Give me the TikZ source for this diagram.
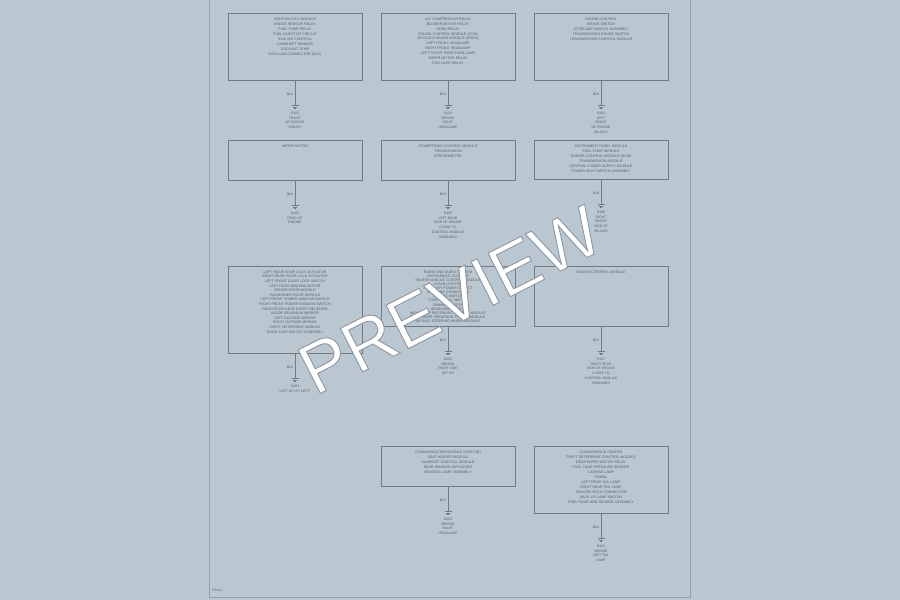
\documentclass[tikz,border=0pt]{standalone}
\usepackage{fontspec}
\setmainfont{Liberation Sans}
\usetikzlibrary{positioning}
\definecolor{pagebg}{RGB}{186,198,208}
\definecolor{frameclr}{RGB}{150,160,170}
\definecolor{wireclr}{RGB}{112,122,132}
\definecolor{txtclr}{RGB}{85,95,105}
\newcommand{\outlinetext}[1]{\special{pdf:literal direct 2 Tr 0.9 w 0.55 0.59 0.63 RG}#1}
\tikzset{
  compbox/.style={draw=wireclr,line width=0.8pt,minimum width=134pt,anchor=north,inner sep=0pt},
  comptext/.style={text=txtclr,align=center,inner sep=0pt},
  wire/.style={draw=wireclr,line width=1pt},
  wirelbl/.style={font=\fontsize{3.4}{4}\selectfont,text=txtclr,pos=0.56,left=1pt,inner sep=0pt},
  gndsym/.style={draw=wireclr,line width=0.7pt},
  gndtext/.style={font=\fontsize{3.4}{4.8}\selectfont,text=txtclr,align=center,inner sep=0pt},
  watermark/.style={font=\fontsize{71}{71}\selectfont,text=white,rotate=27,inner sep=0pt}
}
\begin{document}
\begin{tikzpicture}[x=1pt,y=-1pt]
  \useasboundingbox (0,0) rectangle (900,600);
  \fill[pagebg] (0,0) rectangle (900,600);
  \draw[frameclr,line width=0.8pt] (209,0) -- (209,597) -- (690,597) -- (690,0);
  \node[font=\fontsize{3.4}{4}\selectfont,text=txtclr,anchor=west,inner sep=0pt] (pageno) at (212,590) {GD-01};
  \foreach \n/\bx/\by/\bh/\ls/\txt/\gt in {%
    1/295/13/67/5/{IGNITION COIL MODULE\\KNOCK SENSOR RELAY\\FUEL PUMP RELAY\\FUEL INJECTOR CIRCUIT\\IDLE AIR CONTROL\\CAMSHAFT SENSOR\\COOLANT TEMP\\DATA LINK CONNECTOR (DLC)}/{G101\\FRONT\\OF ENGINE\\(RIGHT)},
    2/448/13/67/4.9/{A/C COMPRESSOR RELAY\\BLOWER MOTOR RELAY\\HORN RELAY\\CRUISE CONTROL MODULE (CCM)\\ANTILOCK BRAKE MODULE (EBCM)\\LEFT FRONT HEADLAMP\\RIGHT FRONT HEADLAMP\\LEFT FRONT PARK/TURN LAMP\\WIPER MOTOR RELAY\\FOG LAMP RELAY}/{G102\\BEHIND\\RIGHT\\HEADLAMP},
    3/601/13/67/5/{CRUISE CONTROL\\BRAKE SWITCH\\STOPLAMP SWITCH ASSEMBLY\\TRANSMISSION RANGE SWITCH\\TRANSMISSION CONTROL MODULE}/{G103\\LEFT\\FRONT\\OF ENGINE\\(BLACK)},
    4/295/140/40/5/{WIPER MOTOR}/{G104\\REAR OF\\ENGINE},
    5/448/140/40/5/{POWERTRAIN CONTROL MODULE\\TRANSMISSION\\SPEEDOMETER}/{G105\\LEFT REAR\\SIDE OF ENGINE\\CLOSE TO\\CONTROL MODULE\\(INBOARD)},
    6/601/140/39/5/{INSTRUMENT PANEL MODULE\\FUEL PUMP MODULE\\ENGINE CONTROL MODULE (ECM)\\TRANSMISSION MODULE\\CENTRAL POWER SUPPLY MODULE\\POWER SEAT SWITCH ASSEMBLY}/{G106\\RIGHT\\FRONT\\SIDE OF\\(BLACK)},
    7/295/266/87/4.6/{LEFT REAR DOOR LOCK ACTUATOR\\RIGHT REAR DOOR LOCK ACTUATOR\\LEFT FRONT DOOR LOCK SWITCH\\LEFT REAR WINDOW MOTOR\\DRIVER DOOR MODULE\\PASSENGER DOOR MODULE\\LEFT FRONT POWER WINDOW SWITCH\\RIGHT FRONT POWER WINDOW SWITCH\\REMOTE KEYLESS ENTRY RECEIVER\\INSIDE REARVIEW MIRROR\\LEFT OUTSIDE MIRROR\\RIGHT OUTSIDE MIRROR\\THEFT DETERRENT MODULE\\DOOR AJAR SWITCH ASSEMBLY}/{G201\\LEFT OF I/P (LEFT)},
    8/448/266/60/4.1/{RADIO AND AUDIO SYSTEM\\INSTRUMENT CLUSTER\\HEATER AND A/C CONTROL MODULE\\CIGAR LIGHTER\\AUXILIARY POWER OUTLET\\DATA LINK CONNECTOR\\HAZARD SWITCH\\TURN SIGNAL SWITCH\\DIMMER SWITCH\\HEADLAMP SWITCH\\INFLATABLE RESTRAINT SENSING MODULE\\PASSENGER PRESENCE SYSTEM MODULE\\AIR BAG STEERING WHEEL MODULE}/{G202\\BEHIND\\RIGHT SIDE\\(OF I/P)},
    9/601/266/60/5/{ENGINE CONTROL MODULE}/{G107\\RIGHT REAR\\SIDE OF ENGINE\\CLOSE TO\\CONTROL MODULE\\(INBOARD)},
    10/448/446/40/5/{COMMUNICATION MODULE (ONSTAR)\\SEAT HEATER MODULE\\SUNROOF CONTROL MODULE\\REAR WINDOW DEFOGGER\\READING LAMP ASSEMBLY}/{G203\\BEHIND\\RIGHT\\HEADLAMP},
    11/601/446/67/5/{CONVENIENCE CENTER\\THEFT DETERRENT CONTROL MODULE\\REAR WIPER MOTOR RELAY\\FUEL TANK PRESSURE SENSOR\\LICENSE LAMP\\CHMSL\\LEFT REAR TAIL LAMP\\RIGHT REAR TAIL LAMP\\TRAILER HITCH CONNECTOR\\BACK-UP LAMP SWITCH\\FUEL PUMP AND SENDER ASSEMBLY}/{G301\\BEHIND\\LEFT TAIL\\LAMP}}{%
      \node[compbox,minimum height=\bh pt] (box\n) at (\bx,\by) {};
      \node[comptext,font={\fontsize{3.6}{\ls}\selectfont},below=4.5pt of box\n.north] (txt\n) {\txt};
      \coordinate[below=25pt of box\n.south] (gnd\n);
      \draw[wire] (box\n) -- node[wirelbl] (lbl\n) {BLK} (gnd\n);
      \draw[gndsym] (gnd\n) ++(-3.5,0) -- ++(7,0) (gnd\n) ++(-2.2,1.4) -- ++(4.4,0) (gnd\n) ++(-1,2.8) -- ++(2,0);
      \node[gndtext,below=6pt of gnd\n] (gtx\n) {\gt};
    }
  \node[watermark] (wmark) at (450,300) {\outlinetext{PREVIEW}};
\end{tikzpicture}
\end{document}
